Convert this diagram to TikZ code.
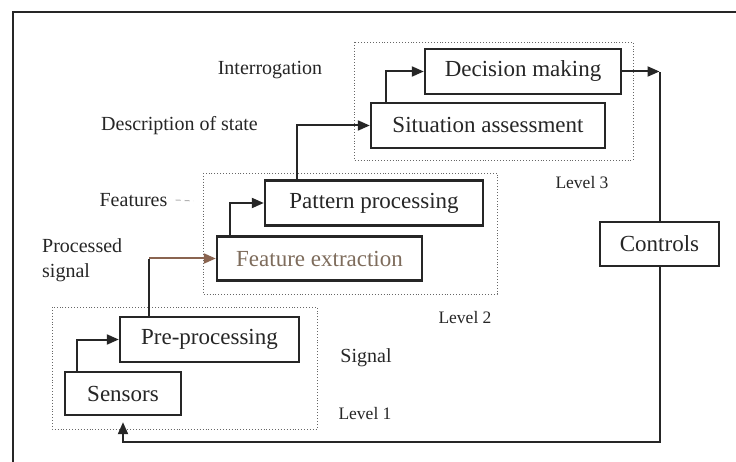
\documentclass[tikz,border=0pt]{standalone}
\usepackage{fontspec}
\setmainfont{Liberation Serif}
\usetikzlibrary{arrows.meta,calc}
\definecolor{ink}{HTML}{262626}
\definecolor{tan}{HTML}{7E6C5C}
\definecolor{rust}{HTML}{8A6450}
\begin{document}
\begin{tikzpicture}[x=1pt,y=-1pt,
  stagebox/.style={draw=ink,line width=2.4pt,inner sep=0pt,text=ink,
    font=\fontsize{23}{27}\selectfont},
  levelframe/.style={draw=ink!70,line width=0.9pt,dotted},
  conn/.style={draw=ink,line width=2pt,-{Triangle[length=12pt,width=10pt]}},
  plain/.style={draw=ink,line width=2pt},
  lbl/.style={text=ink,inner sep=0pt,font=\fontsize{20}{25}\selectfont},
  lvl/.style={text=ink,inner sep=0pt,font=\fontsize{17.5}{21}\selectfont}]
\useasboundingbox (0,0) rectangle (736,462);
\fill[white] (0,0) rectangle (736,462);

% outer frame (top and left edges)
\draw[ink,line width=1.8pt] (736,12) -- (13,12) -- (13,462);

% level frames
\draw[levelframe] (354,42) rectangle (633,160);
\draw[levelframe] (203,173) rectangle (497,294);
\draw[levelframe] (52,307) rectangle (317,429);

% processing stages
\node[stagebox,minimum width=196pt,minimum height=45pt] (dm) at (523,71.5) {Decision making};
\node[stagebox,minimum width=234pt,minimum height=45pt] (sa) at (488,125.5) {Situation assessment};
\node[stagebox,minimum width=218pt,minimum height=45pt] (pp) at (374,203) {Pattern processing};
\node[stagebox,minimum width=205pt,minimum height=44pt,text=tan] (fe) at (319.5,258.5) {Feature extraction};
\node[stagebox,minimum width=179pt,minimum height=45pt] (pre) at (209.5,339.5) {Pre-processing};
\node[stagebox,minimum width=116pt,minimum height=43pt] (sen) at (123,393.5) {Sensors};
\node[stagebox,minimum width=119pt,minimum height=44pt] (ctl) at (659.5,244) {Controls};

% side labels
\node[lbl] (lint) at (270,70) {Interrogation};
\node[lbl] (ldesc) at (179.5,126) {Description of state};
\node[lbl] (lfeat) at (133.5,200) {Features};
\node[lbl,anchor=north west,align=left] (lproc) at (42,238) {Processed\\signal};
\node[lbl] (lsig) at (366,358) {Signal};
\node[lvl] (l1) at (365,414) {Level 1};
\node[lvl] (l2) at (465,318) {Level 2};
\node[lvl] (l3) at (582,183) {Level 3};
\draw[ink!35,line width=1pt,dash pattern=on 5pt off 4pt] ([xshift=8pt]lfeat.east) -- ++(18,1);

% upward chain of stages
\coordinate (prebend) at ([xshift=-60.5pt]pre.north |- fe.west);
\draw[plain] ([xshift=-60.5pt]pre.north) -- ([yshift=-1pt]prebend);
\draw[conn,draw=rust] (prebend) -- (fe.west);
\draw[conn] ([xshift=-46pt]sen.north) |- (pre.west);
\draw[conn] ([xshift=-89.5pt]fe.north) |- (pp.west);
\draw[conn] ([xshift=-77pt]pp.north) |- (sa.west);
\draw[conn] ([xshift=-102pt]sa.north) |- (dm.west);

% decision output and feedback loop
\coordinate (dmout) at (ctl.north |- dm.east);
\draw[conn] (dm.east) -- (dmout);
\draw[plain] ([yshift=-1pt]dmout) -- (ctl.north);
\coordinate (fbtip) at ($(sen.south)+(0,6)$);
\draw[conn] (ctl.south) |- ($(sen.south)+(0,26)$) -- (fbtip);
\end{tikzpicture}
\end{document}
